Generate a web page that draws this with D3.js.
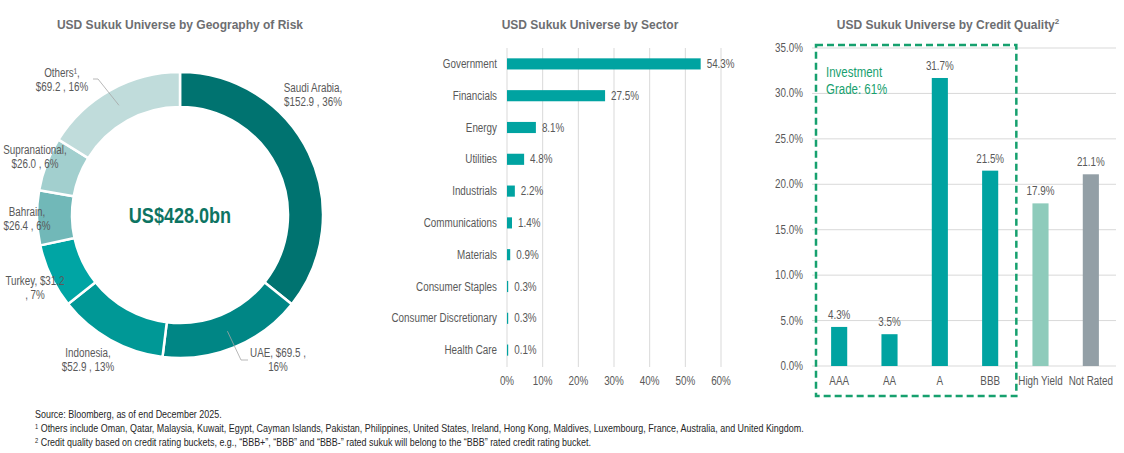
<!DOCTYPE html>
<html>
<head>
<meta charset="utf-8">
<script src="https://cdn.jsdelivr.net/npm/d3@7"></script>
<style>
  body { margin: 0; background: #fff; }
  svg { display: block; }
  .narrow { font-family: "Liberation Sans Narrow", "Arial Narrow", "Liberation Sans", Arial, sans-serif; }
  .title { font-family: "Liberation Sans", Arial, sans-serif; font-weight: bold; font-size: 12px; fill: #6d6e71; }
</style>
</head>
<body>
<svg id="chart"></svg>
<script>
// values
var geoNames = ["Saudi Arabia", "UAE", "Indonesia", "Turkey", "Bahrain", "Supranational", "Others"];
var geoValues = [152.9, 69.5, 52.9, 31.2, 26.4, 26.0, 69.2];
var geoPct = [36, 16, 13, 7, 6, 6, 16];

var sectorNames = ["Government", "Financials", "Energy", "Utilities", "Industrials", "Communications",
                   "Materials", "Consumer Staples", "Consumer Discretionary", "Health Care"];
var sectorValues = [54.3, 27.5, 8.1, 4.8, 2.2, 1.4, 0.9, 0.3, 0.3, 0.1];
var sectorTicks = [0, 10, 20, 30, 40, 50, 60];

var creditNames = ["AAA", "AA", "A", "BBB", "High Yield", "Not Rated"];
var creditValues = [4.3, 3.5, 31.7, 21.5, 17.9, 21.1];
var creditTicks = [0, 5, 10, 15, 20, 25, 30, 35];

// styling
var geoColors = ["#007370", "#008685", "#009896", "#00a5a4", "#71b8b8", "#a2cfce", "#c0dcdb"];
var creditColors = ["#00a3a1", "#00a3a1", "#00a3a1", "#00a3a1", "#8ecbbb", "#939fa6"];
var barColor = "#00a3a1";
var gridColor = "#d9d9d9";
var textColor = "#595959";
var green = "#16a06e";
var condenseBy = 0.82; // no Arial Narrow here, so squeeze the regular face

var W = 1124, H = 453;
var svg = d3.select("#chart").attr("width", W).attr("height", H);

// ---- panel 1: donut ----
var cx = 180, cy = 215;
var g1 = svg.append("g");
g1.append("text").attr("class", "title").attr("x", cx).attr("y", 29)
  .attr("text-anchor", "middle").text("USD Sukuk Universe by Geography of Risk");

var pie = d3.pie().sort(null).value(function(d) { return d; });
var arc = d3.arc().innerRadius(108).outerRadius(143);
var arcs = pie(geoValues);

g1.append("g").attr("transform", "translate(" + cx + "," + cy + ")")
  .selectAll("path").data(arcs).enter().append("path")
  .attr("d", arc)
  .attr("fill", function(d, i) { return geoColors[i]; })
  .attr("stroke", "#fff").attr("stroke-width", 2.5);

g1.append("text").attr("class", "narrow").attr("x", cx).attr("y", cy + 8)
  .attr("text-anchor", "middle").attr("font-weight", "bold").attr("font-size", 22)
  .attr("fill", "#0d7462").text("US$428.0bn");

// label blocks (centre x, first baseline) placed as in the reference
var geoLabelPos = [[313, 92], [278, 357], [88, 357], [35, 285], [27, 216], [35, 154], [62, 77]];
function geoLines(i) {
  var v = "$" + geoValues[i].toFixed(1), p = geoPct[i] + "%";
  switch (geoNames[i]) {
    case "UAE": return ["UAE,  " + v + " ,", p];
    case "Turkey": return ["Turkey,  " + v, ", " + p];
    case "Others": return ["Others\u00b9,", v + " , " + p];
    default: return [geoNames[i] + ",", v + " , " + p];
  }
}
geoNames.forEach(function(n, i) {
  var t = g1.append("text").attr("class", "narrow").attr("font-size", 12)
    .attr("fill", textColor).attr("text-anchor", "middle");
  geoLines(i).forEach(function(l, j) {
    t.append("tspan").attr("x", geoLabelPos[i][0]).attr("y", geoLabelPos[i][1] + j * 14).text(l);
  });
});
// leader lines
function leader(i, pts) {
  var c = arc.centroid(arcs[i]);
  g1.append("path").attr("fill", "none").attr("stroke", "#a6a6a6").attr("stroke-width", 0.8)
    .attr("d", d3.line()([[cx + c[0], cy + c[1]]].concat(pts)));
}
leader(1, [[241, 360], [248, 360]]);
leader(6, [[98, 79], [93, 79]]);

// ---- panel 2: sector bars ----
var g2 = svg.append("g").attr("class", "narrow");
svg.append("text").attr("class", "title").attr("x", 590).attr("y", 29)
  .attr("text-anchor", "middle").text("USD Sukuk Universe by Sector");

var xs = d3.scaleLinear().domain([0, 60]).range([507, 721]);
var ys = d3.scaleBand().domain(sectorNames).range([48, 366]).paddingInner(0.65).paddingOuter(0.325);

g2.selectAll("line.grid").data(sectorTicks).enter().append("line")
  .attr("x1", function(d) { return xs(d); }).attr("x2", function(d) { return xs(d); })
  .attr("y1", 48).attr("y2", 367).attr("stroke", gridColor).attr("stroke-width", 1);

g2.selectAll("text.tick").data(sectorTicks).enter().append("text")
  .attr("x", function(d) { return xs(d); }).attr("y", 385)
  .attr("text-anchor", "middle").attr("font-size", 12).attr("fill", textColor)
  .text(function(d) { return d + "%"; });

g2.selectAll("rect").data(sectorValues).enter().append("rect")
  .attr("x", xs(0)).attr("y", function(d, i) { return ys(sectorNames[i]); })
  .attr("width", function(d) { return Math.max(1.2, xs(d) - xs(0)); })
  .attr("height", ys.bandwidth()).attr("fill", barColor);

g2.selectAll("text.cat").data(sectorNames).enter().append("text")
  .attr("x", xs(0) - 10).attr("y", function(d) { return ys(d) + ys.bandwidth() / 2 + 4; })
  .attr("text-anchor", "end").attr("font-size", 12).attr("fill", textColor)
  .text(function(d) { return d; });

g2.selectAll("text.val").data(sectorValues).enter().append("text")
  .attr("x", function(d) { return Math.max(xs(0) + 1.2, xs(d)) + 6; })
  .attr("y", function(d, i) { return ys(sectorNames[i]) + ys.bandwidth() / 2 + 4; })
  .attr("font-size", 12).attr("fill", textColor)
  .text(function(d) { return d.toFixed(1) + "%"; });

// ---- panel 3: credit quality ----
var g3 = svg.append("g").attr("class", "narrow");
var t3 = svg.append("text").attr("class", "title").attr("x", 948).attr("y", 29)
  .attr("text-anchor", "middle").text("USD Sukuk Universe by Credit Quality");
t3.append("tspan").attr("font-size", 8).attr("dy", -5).text("2");

var yc = d3.scaleLinear().domain([0, 35]).range([366, 48]);
var xc = d3.scaleBand().domain(creditNames).range([814, 1116]).paddingInner(0.68).paddingOuter(0.34);

g3.selectAll("line.grid").data(creditTicks).enter().append("line")
  .attr("x1", 812).attr("x2", 1116)
  .attr("y1", function(d) { return yc(d); }).attr("y2", function(d) { return yc(d); })
  .attr("stroke", gridColor).attr("stroke-width", 1);

g3.selectAll("text.tick").data(creditTicks).enter().append("text")
  .attr("x", 803).attr("y", function(d) { return yc(d) + 4; })
  .attr("text-anchor", "end").attr("font-size", 12).attr("fill", textColor)
  .text(function(d) { return d.toFixed(1) + "%"; });

g3.selectAll("rect").data(creditValues).enter().append("rect")
  .attr("x", function(d, i) { return xc(creditNames[i]); })
  .attr("y", function(d) { return yc(d); })
  .attr("width", xc.bandwidth())
  .attr("height", function(d) { return yc(0) - yc(d); })
  .attr("fill", function(d, i) { return creditColors[i]; });

g3.selectAll("text.val").data(creditValues).enter().append("text")
  .attr("x", function(d, i) { return xc(creditNames[i]) + xc.bandwidth() / 2; })
  .attr("y", function(d) { return yc(d) - 8; })
  .attr("text-anchor", "middle").attr("font-size", 12).attr("fill", textColor)
  .text(function(d) { return d.toFixed(1) + "%"; });

g3.selectAll("text.cat").data(creditNames).enter().append("text")
  .attr("x", function(d) { return xc(d) + xc.bandwidth() / 2; }).attr("y", 385)
  .attr("text-anchor", "middle").attr("font-size", 12).attr("fill", textColor)
  .text(function(d) { return d; });

// investment grade box
var boxL = xc.range()[0] + 2;
var boxR = (xc("BBB") + xc.bandwidth() + xc("High Yield")) / 2 + 1;
g3.append("rect").attr("x", boxL).attr("y", 45).attr("width", boxR - boxL).attr("height", 351)
  .attr("fill", "none").attr("stroke", green).attr("stroke-width", 2.5)
  .attr("stroke-dasharray", "7,4");
var ig = g3.append("text").attr("font-size", 14).attr("fill", green);
ig.append("tspan").attr("x", boxL + 10).attr("y", 77).text("Investment");
ig.append("tspan").attr("x", boxL + 10).attr("y", 94).text("Grade: 61%");

// ---- footnotes ----
var notes = svg.append("g").attr("class", "narrow").attr("font-size", 10.9).attr("fill", "#262626");
notes.append("text").attr("x", 35).attr("y", 418).text("Source: Bloomberg, as of end December 2025.");
var n1 = notes.append("text").attr("x", 35).attr("y", 432);
n1.append("tspan").attr("font-size", 7).attr("dy", -3).text("1");
n1.append("tspan").attr("dy", 3).text(" Others include Oman, Qatar, Malaysia, Kuwait, Egypt, Cayman Islands, Pakistan, Philippines, United States, Ireland, Hong Kong, Maldives, Luxembourg, France, Australia, and United Kingdom.");
var n2 = notes.append("text").attr("x", 35).attr("y", 446);
n2.append("tspan").attr("font-size", 7).attr("dy", -3).text("2");
n2.append("tspan").attr("dy", 3).text(" Credit quality based on credit rating buckets, e.g., \u201cBBB+\u201d, \u201cBBB\u201d and \u201cBBB-\u201d rated sukuk will belong to the \u201cBBB\u201d rated credit rating bucket.");

// squeeze every leaf text run of the narrow groups
svg.selectAll(".narrow text, text.narrow, .narrow tspan, text.narrow tspan").each(function() {
  var hasChild = Array.prototype.some.call(this.childNodes, function(n) { return n.nodeType === 1; });
  if (hasChild || !this.textContent.length) return;
  var len = this.getComputedTextLength();
  this.setAttribute("textLength", len * condenseBy);
  this.setAttribute("lengthAdjust", "spacingAndGlyphs");
});
</script>
</body>
</html>
